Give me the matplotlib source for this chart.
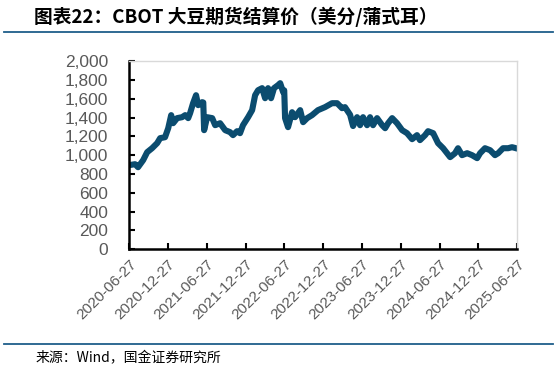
import matplotlib
matplotlib.use("Agg")
import matplotlib.pyplot as plt
import matplotlib.ticker as mticker
import pandas as pd

plt.rcParams['font.family'] = ['Noto Sans CJK SC', 'DejaVu Sans']

# ── data: CBOT soybean settlement price (US cents / bushel) ──
dates = [
    "2020-06-27", "2020-07-25", "2020-08-08", "2020-09-01", "2020-09-20", "2020-10-13",
    "2020-11-06", "2020-11-20", "2020-12-13", "2020-12-28", "2021-01-11", "2021-01-20",
    "2021-02-08", "2021-03-03", "2021-03-18", "2021-04-01", "2021-04-10", "2021-04-24",
    "2021-05-08", "2021-05-18", "2021-06-06", "2021-06-11", "2021-06-15", "2021-06-29",
    "2021-07-23", "2021-08-06", "2021-08-29", "2021-09-22", "2021-10-15", "2021-10-29",
    "2021-11-17", "2021-12-01", "2021-12-15", "2022-01-08", "2022-01-27", "2022-02-10",
    "2022-02-24", "2022-03-15", "2022-03-29", "2022-04-12", "2022-04-26", "2022-05-10",
    "2022-05-29", "2022-06-08", "2022-06-22", "2022-06-27", "2022-07-01", "2022-07-15",
    "2022-08-03", "2022-08-17", "2022-09-10", "2022-09-24", "2022-10-13", "2022-11-05",
    "2022-12-03", "2023-01-05", "2023-02-07", "2023-03-03", "2023-03-26", "2023-04-09",
    "2023-05-03", "2023-05-17", "2023-06-05", "2023-06-19", "2023-07-03", "2023-07-22",
    "2023-08-05", "2023-08-19", "2023-09-07", "2023-10-01", "2023-10-15", "2023-10-29",
    "2023-11-17", "2023-12-10", "2024-01-03", "2024-01-26", "2024-02-19", "2024-03-13",
    "2024-03-27", "2024-04-20", "2024-05-04", "2024-05-28", "2024-06-20", "2024-07-14",
    "2024-08-16", "2024-09-08", "2024-09-22", "2024-10-11", "2024-11-04", "2024-11-27",
    "2024-12-21", "2025-01-04", "2025-01-27", "2025-02-20", "2025-03-15", "2025-03-30",
    "2025-04-22", "2025-05-16", "2025-06-03", "2025-06-22", "2025-06-27",
]
prices = [
    894, 904, 872, 947, 1032, 1074,
    1128, 1181, 1191, 1287, 1426, 1340,
    1394, 1404, 1426, 1394, 1447, 1553,
    1638, 1532, 1564, 1560, 1266, 1404,
    1394, 1319, 1340, 1266, 1245, 1213,
    1255, 1234, 1319, 1404, 1479, 1638,
    1691, 1713, 1606, 1713, 1606, 1713,
    1745, 1766, 1670, 1690, 1394, 1298,
    1457, 1404, 1479, 1351, 1394, 1426,
    1479, 1511, 1553, 1553, 1500, 1511,
    1430, 1310, 1404, 1319, 1404, 1319,
    1404, 1319, 1394, 1319, 1287, 1340,
    1394, 1340, 1266, 1234, 1170, 1213,
    1160, 1213, 1255, 1234, 1128, 1074,
    979, 1021, 1074, 1000, 1021, 1000,
    968, 1021, 1074, 1053, 1000, 1021,
    1074, 1074, 1085, 1074, 1070,
]
tick_dates = ["2020-06-27", "2020-12-27", "2021-06-27", "2021-12-27", "2022-06-27",
              "2022-12-27", "2023-06-27", "2023-12-27", "2024-06-27", "2024-12-27",
              "2025-06-27"]
y_ticks = list(range(0, 2001, 200))

title = "图表22：CBOT 大豆期货结算价（美分/蒲式耳）"
source = "来源：Wind，国金证券研究所"

# ── figure ──
fig = plt.figure(figsize=(5.59, 3.73), dpi=100)
ax = fig.add_axes([0.231, 0.332, 0.694, 0.504])

x = pd.to_datetime(dates)
ax.plot(x, prices, color="#0B4C6F", lw=4.4, solid_joinstyle="round", solid_capstyle="round")

ticks = pd.to_datetime(tick_dates)
ax.set_xlim(ticks[0], ticks[-1])
ax.set_ylim(0, 2000)
ax.set_xticks(ticks)
ax.set_xticklabels([t.strftime("%Y-%m-%d") for t in ticks], rotation=45, ha="right",
                   rotation_mode="anchor", fontsize=11, color="#595959",
                   family=["Liberation Sans", "DejaVu Sans"])
ax.set_yticks(y_ticks)
ax.yaxis.set_major_formatter(mticker.FuncFormatter(lambda v, p: f"{int(v):,}"))
for lab in ax.get_yticklabels():
    lab.set_family(["Liberation Sans", "DejaVu Sans"])
    lab.set_fontsize(12.5)
    lab.set_color("#595959")

ax.tick_params(axis="both", direction="in", length=4, width=1.5, color="black")
ax.tick_params(axis="x", pad=6)
ax.tick_params(axis="y", pad=15)

for side in ("left", "bottom"):
    ax.spines[side].set_color("black")
    ax.spines[side].set_linewidth(1.8)
for side in ("top", "right"):
    ax.spines[side].set_color("#D9D9D9")
    ax.spines[side].set_linewidth(1.0)

# title and separators
fig.text(0.06, 0.955, title, fontsize=13.5, fontweight="bold", style="italic",
         ha="left", va="center", color="black")
fig.add_artist(plt.Line2D([0.008, 0.99], [0.913, 0.913], color="#1F5E8A", lw=1.3))
fig.add_artist(plt.Line2D([0.008, 0.99], [0.077, 0.077], color="#1F5E8A", lw=1.3))
fig.text(0.063, 0.04, source, fontsize=10, ha="left", va="center", color="black")

fig.savefig("out.png", dpi=100)
